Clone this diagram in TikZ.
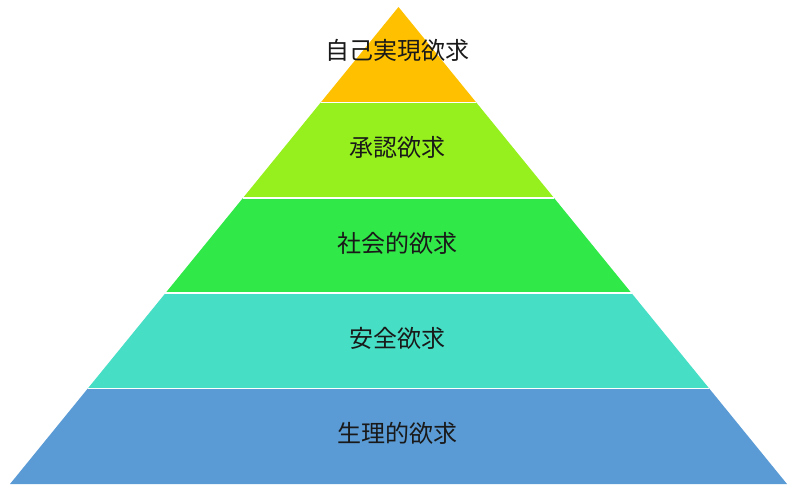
\documentclass[tikz,border=0pt]{standalone}
\usepackage{fontspec}
\newfontfamily\jpfont{Noto Sans CJK JP}
\usetikzlibrary{calc}

\definecolor{selfcol}{HTML}{FFC000}
\definecolor{esteemcol}{HTML}{96F01E}
\definecolor{socialcol}{HTML}{30E848}
\definecolor{safetycol}{HTML}{46DEC4}
\definecolor{physcol}{HTML}{5B9BD5}

\begin{document}
\begin{tikzpicture}[x=1pt, y=-1pt,
    tiertext/.style={font=\jpfont\fontsize{24}{28}\selectfont, text=black!90},
    divider/.style={white, line width=1.5pt}
]
    \useasboundingbox (0,0) rectangle (800,494);
    \coordinate (apex) at (398.5,7);
    \coordinate (bl) at (10,484);
    \coordinate (br) at (787,484);
    % corners of the tiers along both sides
    \foreach \i in {1,...,4} {
        \coordinate (l\i) at ($(apex)!\i/5!(bl)$);
        \coordinate (r\i) at ($(apex)!\i/5!(br)$);
    }
    \fill[selfcol] (apex) -- (l1) -- (r1) -- cycle;
    \fill[esteemcol] (l1) -- (l2) -- (r2) -- (r1) -- cycle;
    \fill[socialcol] (l2) -- (l3) -- (r3) -- (r2) -- cycle;
    \fill[safetycol] (l3) -- (l4) -- (r4) -- (r3) -- cycle;
    \fill[physcol] (l4) -- (bl) -- (br) -- (r4) -- cycle;
    \foreach \i in {1,...,4}
        \draw[divider] (l\i) -- (r\i);

    \node[tiertext] (self) at (397,50) {自己実現欲求};
    \node[tiertext] (esteem) at (397,147) {承認欲求};
    \node[tiertext] (social) at (397,243) {社会的欲求};
    \node[tiertext] (safety) at (397,338) {安全欲求};
    \node[tiertext] (phys) at (397,433) {生理的欲求};
\end{tikzpicture}
\end{document}
